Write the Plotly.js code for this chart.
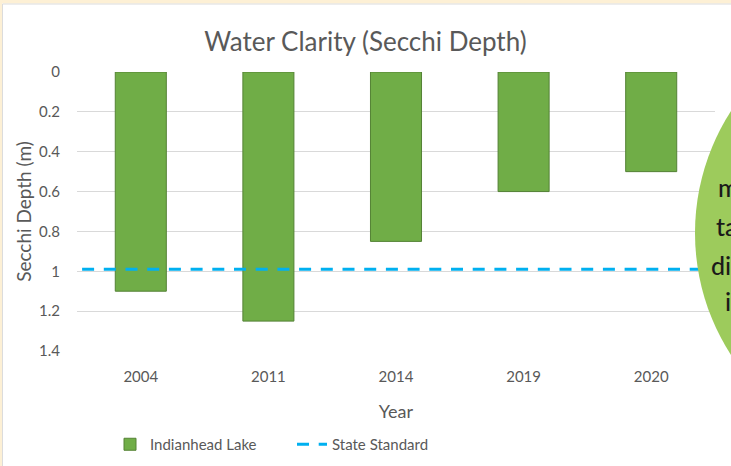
<!DOCTYPE html>
<html>
<head>
<meta charset="utf-8">
<script src="https://cdn.plot.ly/plotly-3.0.1.min.js"></script>
<style>
  html, body { margin: 0; padding: 0; background: #ffffff; overflow: hidden; }
  #chart { width: 731px; height: 466px; }
</style>
</head>
<body>
<div id="chart"></div>
<script>
// ---- data ----
const years = ["2004", "2011", "2014", "2019", "2020"];
const secchiDepth = [1.1, 1.25, 0.85, 0.6, 0.5];
const standardX = [0.008, 1];
const standardDepth = [0.99, 0.99];
const yTickVals = [0, 0.2, 0.4, 0.6, 0.8, 1, 1.2, 1.4];
const calloutLines = ["m", "ta", "di", "i"];

// ---- layout helpers (pixel -> paper) ----
const W = 731, H = 466;
const M = { l: 77, r: 16, t: 72, b: 115, autoexpand: false };
const pw = W - M.l - M.r, ph = H - M.t - M.b;
const px = x => (x - M.l) / pw;
const py = y => (H - M.b - y) / ph;

const FONT = "Lato, sans-serif";
const tickFont = { family: FONT, size: 15, color: "#595959" };

const traces = [
  {
    type: "bar",
    name: "Indianhead Lake",
    x: years,
    y: secchiDepth,
    marker: { color: "#70ad47", line: { color: "#548235", width: 1 } },
    hoverinfo: "x+y"
  },
  {
    type: "scatter",
    mode: "lines",
    name: "State Standard",
    x: standardX,
    y: standardDepth,
    xaxis: "x2",
    line: { color: "#00b0f0", width: 3, dash: "12px,9.7px" }
  }
];

const calloutY = [187, 226, 265, 301];
const calloutX = [716, 714, 709, 723];
const annotations = calloutLines.map((t, i) => ({
  text: t,
  xref: "paper", yref: "paper",
  x: px(calloutX[i]), y: py(calloutY[i]),
  xanchor: "left", yanchor: "middle",
  showarrow: false,
  font: { family: FONT, size: 25, color: "#1a1a1a", weight: 500 }
}));

const layout = {
  width: W, height: H,
  margin: M,
  paper_bgcolor: "#ffffff",
  plot_bgcolor: "#ffffff",
  bargap: 0.6,
  showlegend: true,
  title: {
    text: "Water Clarity (Secchi Depth)",
    x: 0.5, xanchor: "center",
    y: 1 - 42 / H, yanchor: "middle",
    font: { family: FONT, size: 26, color: "#595959" }
  },
  xaxis: {
    type: "category",
    range: [-0.5, 4.5],
    showgrid: false,
    showline: false,
    zeroline: false,
    ticks: "",
    tickfont: tickFont,
    ticklabelstandoff: 15,
    title: { text: "Year", font: { family: FONT, size: 18, color: "#595959" }, standoff: 21 }
  },
  xaxis2: {
    overlaying: "x",
    range: [0, 1],
    visible: false
  },
  yaxis: {
    range: [1.4, 0],
    tickvals: yTickVals,
    showgrid: true,
    gridcolor: "#d9d9d9",
    gridwidth: 1,
    zeroline: false,
    showline: false,
    ticks: "",
    tickfont: tickFont,
    ticklabelstandoff: 16,
    title: { text: "Secchi Depth (m)", font: { family: FONT, size: 19, color: "#595959" }, standoff: 2 }
  },
  legend: {
    orientation: "h",
    x: px(110), xanchor: "left",
    y: py(428), yanchor: "top",
    entrywidth: 137,
    entrywidthmode: "pixels",
    font: { family: FONT, size: 15, color: "#595959" },
    bgcolor: "rgba(0,0,0,0)"
  },
  shapes: [
    { type: "circle", xref: "paper", yref: "paper", x0: px(695), x1: px(1145), y0: py(458), y1: py(8),
      fillcolor: "#9dcb5c", line: { width: 0 }, layer: "above" },
    { type: "rect", xref: "paper", yref: "paper", x0: px(0), x1: px(731), y0: py(0), y1: py(3.5),
      fillcolor: "#fdf0d5", line: { width: 0 } },
    { type: "rect", xref: "paper", yref: "paper", x0: px(0), x1: px(2), y0: py(0), y1: py(466),
      fillcolor: "#fdf0d5", line: { width: 0 } },
    { type: "line", xref: "paper", yref: "paper", x0: px(2.5), x1: px(731), y0: py(4), y1: py(4),
      line: { color: "#dcdcdc", width: 1 } },
    { type: "line", xref: "paper", yref: "paper", x0: px(2.5), x1: px(2.5), y0: py(4), y1: py(466),
      line: { color: "#dcdcdc", width: 1 } }
  ],
  annotations: annotations
};

Plotly.newPlot("chart", traces, layout, { displayModeBar: false, staticPlot: true });
</script>
</body>
</html>
